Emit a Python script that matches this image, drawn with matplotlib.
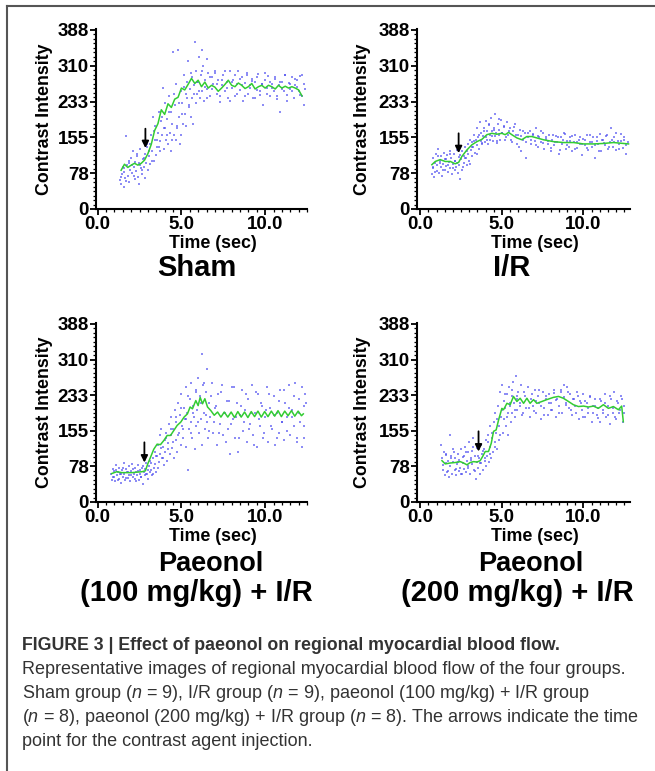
import matplotlib
matplotlib.use("Agg")
import matplotlib.pyplot as plt
from matplotlib.lines import Line2D
from matplotlib.ticker import MultipleLocator, FixedLocator

plt.rcParams['font.family'] = ['Liberation Sans', 'DejaVu Sans']
plt.rcParams['mathtext.fontset'] = 'custom'
plt.rcParams['mathtext.rm'] = 'Liberation Sans'
plt.rcParams['mathtext.it'] = 'Liberation Sans:italic'

# ---------------- data ----------------
ytick_vals = [0, 77.6, 155.2, 232.8, 310.4, 388]
ytick_labels = ['0', '78', '155', '233', '310', '388']
xtick_vals = [0, 5, 10]
xtick_labels = ['0.0', '5.0', '10.0']

# Sham
sham_line_t = [1.4,1.6,1.8,2.0,2.2,2.4,2.6,2.8,3.0,3.2,3.4,3.6,3.8,4.0,4.2,4.4,4.6,4.8,5.0,5.2,5.4,5.6,5.8,6.0,6.2,6.4,6.6,6.8,7.0,7.2,7.4,7.6,7.8,8.0,8.2,8.4,8.6,8.8,9.0,9.2,9.4,9.6,9.8,10.0,10.2,10.4,10.6,10.8,11.0,11.2,11.4,11.6,11.8,12.0,12.2]
sham_line_v = [84,97,90,95,99,95,99,106,120,140,170,185,215,205,228,220,238,242,262,258,270,283,272,279,265,275,262,268,264,255,262,270,279,268,265,273,268,261,265,272,260,265,268,262,268,265,260,268,262,266,262,265,262,258,245]
sham_pts_t = [1.35,1.4,1.45,1.5,1.55,1.6,1.65,1.7,1.75,1.8,1.85,1.9,1.95,2.0,2.05,2.1,2.15,2.2,2.25,2.3,2.35,2.4,2.45,2.5,2.55,2.6,2.65,2.7,2.75,2.8,2.85,2.9,2.95,3.0,3.05,3.1,3.15,3.2,3.25,3.3,3.35,3.4,3.45,3.5,3.55,3.6,3.65,3.7,3.75,3.8,3.85,3.9,3.95,4.0,4.05,4.1,4.15,4.2,4.25,4.3,4.35,4.4,4.45,4.5,4.55,4.6,4.65,4.7,4.75,4.8,4.85,4.9,4.95,5.0,5.05,5.1,5.15,5.2,5.25,5.3,5.35,5.4,5.45,5.5,5.55,5.6,5.65,5.7,5.75,5.8,5.85,5.9,5.95,6.0,6.05,6.1,6.15,6.2,6.25,6.3,6.35,6.4,6.5,6.55,6.6,6.7,6.8,6.9,7.0,7.1,7.2,7.3,7.4,7.5,7.6,7.7,7.8,7.9,8.0,8.1,8.2,8.3,8.4,8.5,8.6,8.7,8.8,8.9,9.0,9.1,9.2,9.3,9.4,9.5,9.6,9.7,9.8,9.9,10.0,10.1,10.2,10.3,10.4,10.5,10.6,10.7,10.8,10.9,11.0,11.1,11.2,11.3,11.4,11.5,11.6,11.7,11.8,11.9,12.0,12.1,12.2,12.3,12.35]
sham_pts_v = [62,55,75,90,48,80,68,158,95,72,100,58,85,110,78,125,90,65,102,82,115,70,55,95,130,88,75,108,92,120,68,100,135,85,115,140,98,160,125,200,105,150,180,118,135,165,210,125,148,190,160,262,130,175,230,150,195,140,245,165,210,125,185,340,160,225,150,270,175,345,200,140,255,160,230,185,290,205,250,180,275,320,225,260,200,295,240,185,268,362,230,300,250,275,330,240,290,345,255,310,235,280,325,260,295,245,285,270,300,250,280,232,268,290,255,275,240,298,262,280,245,270,300,258,285,235,272,290,250,268,282,240,275,258,292,248,270,225,280,262,288,245,270,255,282,238,268,210,275,255,290,248,272,260,285,240,268,280,255,288,245,270,225]
sham_pts2_t = [1.42,1.58,1.72,1.88,2.02,2.18,2.32,2.48,2.62,2.78,
               2.92,3.08,3.22,3.38,3.52,3.68,3.82,3.98,4.12,4.28,
               4.42,4.58,4.72,4.88,5.02,5.18,5.32,5.48,5.62,5.78,
               5.92,6.08,6.22,6.38,6.52,6.68,6.82,6.98,7.12,7.28,
               7.42,7.58,7.72,7.88,8.02,8.18,8.32,8.48,8.62,8.78,
               8.92,9.08,9.22,9.38,9.52,9.68,9.82,9.98,10.12,10.28,
               10.42,10.58,10.72,10.88,11.02,11.18,11.32,11.48,11.62,11.78,
               11.92,12.08,12.22,12.38]
sham_pts2_v = [70,88,60,105,95,72,120,100,85,110,
               140,125,105,170,150,135,200,175,160,210,
               150,250,180,230,205,265,240,220,285,250,
               275,255,300,265,240,285,260,295,270,245,
               280,300,262,235,275,290,250,282,268,245,
               295,262,278,240,285,255,270,295,250,275,
               262,285,245,275,260,290,235,270,255,282,
               265,248,290,260]

# I/R
ir_line_t = [0.71,0.92,1.22,1.53,1.84,2.14,2.35,2.55,2.86,3.16,3.47,3.78,4.08,4.39,4.69,5.0,5.2,5.41,5.61,5.92,6.22,6.53,6.84,7.14,7.55,8.16,8.78,9.39,10.0,10.61,11.22,11.84,12.45,12.76]
ir_line_v = [96,103,107,103,103,98,101,114,128,139,146,151,161,164,162,164,161,166,161,154,150,157,157,154,150,146,144,144,141,141,142,144,142,141]
ir_pts_t = [0.7,0.75,0.8,0.85,0.9,0.95,1.0,1.05,1.1,1.15,1.2,1.25,1.3,1.35,1.4,1.45,1.5,1.55,1.6,1.65,1.7,1.75,1.8,1.85,1.9,1.95,2.0,2.05,2.1,2.15,2.2,2.25,2.3,2.35,2.4,2.45,2.5,2.55,2.6,2.65,2.7,2.75,2.8,2.85,2.9,2.95,3.0,3.05,3.1,3.15,3.2,3.25,3.3,3.35,3.4,3.45,3.5,3.55,3.6,3.65,3.7,3.75,3.8,3.85,3.9,3.95,4.0,4.05,4.1,4.15,4.2,4.25,4.3,4.35,4.4,4.45,4.5,4.55,4.6,4.65,4.7,4.75,4.8,4.85,4.9,4.95,5.0,5.1,5.2,5.3,5.4,5.5,5.6,5.7,5.8,5.9,6.0,6.1,6.2,6.3,6.4,6.5,6.6,6.7,6.8,6.9,7.0,7.1,7.2,7.3,7.4,7.5,7.6,7.7,7.8,7.9,8.0,8.1,8.2,8.3,8.4,8.5,8.6,8.7,8.8,8.9,9.0,9.1,9.2,9.3,9.4,9.5,9.6,9.7,9.8,9.9,10.0,10.1,10.2,10.3,10.4,10.5,10.6,10.7,10.8,10.9,11.0,11.1,11.2,11.3,11.4,11.5,11.6,11.7,11.8,11.9,12.0,12.1,12.2,12.3,12.4,12.5,12.6,12.7]
ir_pts_v = [75,110,88,70,100,120,82,95,130,78,105,90,115,72,98,122,85,108,93,118,80,102,125,88,110,75,98,120,85,105,92,128,78,112,95,65,108,125,90,115,100,135,110,95,140,120,105,150,128,115,145,135,160,122,150,175,138,155,130,188,148,165,140,158,175,145,190,155,170,140,182,160,150,198,168,148,175,158,205,165,142,185,160,172,150,192,165,178,150,188,160,175,145,168,185,140,160,172,125,150,165,110,155,170,140,160,148,175,135,155,145,165,130,152,140,160,125,150,138,158,145,120,155,140,165,130,148,135,155,125,145,160,132,150,140,118,152,138,160,128,145,135,155,110,148,140,162,125,150,138,158,130,145,175,135,155,128,148,140,162,132,150,120,145]
ir_pts2_t = [0.78,0.92,1.08,1.22,1.38,1.52,1.68,1.82,1.98,2.12,
             2.28,2.42,2.58,2.72,2.88,3.02,3.18,3.32,3.48,3.62,
             3.78,3.92,4.08,4.22,4.38,4.52,4.68,4.82,4.98,5.12,
             5.28,5.42,5.58,5.72,5.88,6.02,6.18,6.32,6.48,6.62,
             6.78,6.92,7.08,7.22,7.38,7.52,7.68,7.82,7.98,8.12,
             8.28,8.42,8.58,8.72,8.88,9.02,9.18,9.32,9.48,9.62,
             9.78,9.92,10.08,10.22,10.38,10.52,10.68,10.82,10.98,11.12,
             11.28,11.42,11.58,11.72,11.88,12.02,12.18,12.32,12.48,12.62]
ir_pts2_v = [92,80,115,100,85,108,95,120,88,105,
             100,118,84,110,125,98,135,148,120,160,
             142,170,150,185,158,172,148,195,165,180,
             155,170,150,178,160,135,158,170,145,165,
             150,162,138,158,168,142,155,148,132,160,
             145,155,128,150,162,138,148,158,130,145,
             155,140,150,132,160,145,138,155,125,150,
             142,160,135,150,145,165,130,148,155,138]

# Paeonol 100 mg/kg + I/R
p100_line_t = [0.84,1.14,1.44,1.75,2.05,2.35,2.65,2.85,2.99,3.15,3.35,3.55,3.75,3.95,4.15,4.35,4.55,4.75,4.96,5.16,5.36,5.52,5.66,5.86,6.0,6.12,6.26,6.4,6.56,6.76,6.96,7.16,7.36,7.56,7.77,7.97,8.17,8.37,8.57,8.77,8.97,9.17,9.37,9.57,9.77,9.97,10.17,10.37,10.57,10.77,10.97,11.17,11.37,11.57,11.77,11.97,12.17,12.28]
p100_line_v = [62,66,64,64,64,65,66,68,83,97,115,126,125,134,145,145,156,167,174,185,192,207,203,221,210,228,214,225,207,199,189,196,185,196,185,196,184,197,185,196,184,197,186,198,185,197,186,198,187,199,186,198,188,199,187,198,188,192]
p100_pts_t = [0.8,0.85,0.9,0.95,1.0,1.05,1.1,1.15,1.2,1.25,1.3,1.35,1.4,1.45,1.5,1.55,1.6,1.65,1.7,1.75,1.8,1.85,1.9,1.95,2.0,2.05,2.1,2.15,2.2,2.25,2.3,2.35,2.4,2.45,2.5,2.55,2.6,2.65,2.7,2.75,2.8,2.85,2.9,2.95,3.0,3.05,3.1,3.15,3.2,3.25,3.3,3.35,3.4,3.45,3.5,3.55,3.6,3.65,3.7,3.75,3.8,3.85,3.9,3.95,4.0,4.05,4.1,4.15,4.2,4.25,4.3,4.35,4.4,4.45,4.5,4.55,4.6,4.65,4.7,4.75,4.8,4.85,4.9,4.95,5.0,5.05,5.1,5.15,5.2,5.25,5.3,5.35,5.4,5.45,5.5,5.55,5.6,5.65,5.7,5.75,5.8,5.85,5.9,5.95,6.0,6.05,6.1,6.15,6.2,6.25,6.3,6.35,6.4,6.45,6.5,6.55,6.6,6.65,6.7,6.8,6.9,7.0,7.1,7.2,7.3,7.4,7.5,7.6,7.7,7.8,7.9,8.0,8.1,8.2,8.3,8.4,8.5,8.6,8.7,8.8,8.9,9.0,9.1,9.2,9.3,9.4,9.5,9.6,9.7,9.8,9.9,10.0,10.1,10.2,10.3,10.4,10.5,10.6,10.7,10.8,10.9,11.0,11.1,11.2,11.3,11.4,11.5,11.6,11.7,11.8,11.9,12.0,12.1,12.2,12.3,12.35,12.4]
p100_pts_v = [60,48,72,55,68,45,80,58,65,50,75,62,42,70,55,85,60,48,72,65,52,78,58,45,68,82,55,62,75,50,66,58,80,48,70,62,55,75,40,65,72,58,85,62,50,78,65,90,70,58,95,75,110,82,65,100,125,88,145,105,160,95,120,80,135,110,150,90,128,170,105,145,185,118,160,95,200,135,175,110,215,150,190,125,235,165,140,205,180,250,120,195,70,160,225,175,260,140,210,185,115,245,165,200,270,150,230,180,322,125,255,195,160,240,175,290,140,215,185,260,150,205,125,235,170,255,145,195,220,160,105,250,180,140,215,110,190,245,155,200,130,225,170,255,145,195,120,235,165,210,140,185,250,130,205,160,230,125,195,150,245,175,135,215,185,255,145,200,165,260,130,225,175,120,210,140,235]
p100_pts2_t = [0.92,1.08,1.22,1.38,1.52,1.68,1.82,1.98,2.12,2.28,
               2.42,2.58,2.72,2.88,3.02,3.18,3.32,3.48,3.62,3.78,
               3.92,4.08,4.22,4.38,4.52,4.68,4.82,4.98,5.12,5.28,
               5.42,5.58,5.72,5.88,6.02,6.18,6.32,6.48,6.62,6.78,
               6.92,7.08,7.22,7.38,7.52,7.68,7.82,7.98,8.12,8.28,
               8.42,8.58,8.72,8.88,9.02,9.18,9.32,9.48,9.62,9.78,
               9.92,10.08,10.22,10.38,10.52,10.68,10.82,10.98,11.12,11.28,
               11.42,11.58,11.72,11.88,12.02,12.18,12.32,12.42]
p100_pts2_v = [55,70,48,62,75,52,66,58,72,45,
               68,55,78,62,70,85,60,100,75,118,
               95,140,115,160,130,185,145,205,160,180,
               230,150,195,240,175,215,260,190,155,230,
               175,210,150,240,195,130,220,170,250,185,
               140,210,175,235,160,195,125,240,180,215,
               150,200,235,165,190,140,220,175,245,155,
               205,185,230,140,195,250,165,215]

# Paeonol 200 mg/kg + I/R
p200_line_t = [1.33,1.53,1.84,2.14,2.45,2.65,2.86,3.06,3.27,3.47,3.67,3.82,3.98,4.18,4.35,4.49,4.65,4.8,5.0,5.1,5.31,5.51,5.71,5.92,6.12,6.33,6.53,6.73,6.94,7.14,7.45,7.75,8.16,8.47,8.77,9.08,9.38,9.69,10.0,10.3,10.61,10.91,11.22,11.53,11.83,12.14,12.34,12.44]
p200_line_v = [90,83,85,86,88,85,81,86,88,87,90,99,110,110,128,154,157,179,204,201,215,212,230,219,226,215,226,215,223,215,219,223,228,230,226,219,212,208,209,207,209,204,212,204,208,201,209,175]
p200_pts_t = [1.3,1.35,1.4,1.45,1.5,1.55,1.6,1.65,1.7,1.75,1.8,1.85,1.9,1.95,2.0,2.05,2.1,2.15,2.2,2.25,2.3,2.35,2.4,2.45,2.5,2.55,2.6,2.65,2.7,2.75,2.8,2.85,2.9,2.95,3.0,3.05,3.1,3.15,3.2,3.25,3.3,3.35,3.4,3.45,3.5,3.55,3.6,3.65,3.7,3.75,3.8,3.85,3.9,3.95,4.0,4.05,4.1,4.15,4.2,4.25,4.3,4.35,4.4,4.45,4.5,4.55,4.6,4.65,4.7,4.75,4.8,4.85,4.9,4.95,5.0,5.05,5.1,5.15,5.2,5.25,5.3,5.35,5.4,5.45,5.5,5.55,5.6,5.65,5.7,5.75,5.8,5.85,5.9,5.95,6.0,6.1,6.2,6.3,6.4,6.5,6.6,6.7,6.8,6.9,7.0,7.1,7.2,7.3,7.4,7.5,7.6,7.7,7.8,7.9,8.0,8.1,8.2,8.3,8.4,8.5,8.6,8.7,8.8,8.9,9.0,9.1,9.2,9.3,9.4,9.5,9.6,9.7,9.8,9.9,10.0,10.1,10.2,10.3,10.4,10.5,10.6,10.7,10.8,10.9,11.0,11.1,11.2,11.3,11.4,11.5,11.6,11.7,11.8,11.9,12.0,12.1,12.2,12.3,12.4,12.5]
p200_pts_v = [125,95,70,110,58,85,102,65,90,55,145,78,100,62,88,110,70,95,58,82,105,68,92,75,115,60,85,100,72,120,65,90,108,78,130,62,95,112,82,140,70,100,50,88,118,75,95,60,125,85,105,70,115,90,135,78,100,145,88,120,165,95,140,110,175,130,195,150,115,210,165,135,240,185,255,150,220,180,205,165,235,195,145,250,210,175,230,195,262,215,185,275,225,200,240,210,255,195,230,205,250,185,225,210,245,195,230,215,180,240,205,225,190,235,215,200,245,185,225,210,240,195,255,215,250,205,235,190,225,210,240,180,220,200,235,185,215,195,230,175,210,225,190,205,175,220,195,235,185,210,170,225,195,240,180,215,195,230,175,210]
p200_pts2_t = [1.42,1.58,1.72,1.88,2.02,2.18,2.32,2.48,2.62,2.78,
               2.92,3.08,3.22,3.38,3.52,3.68,3.82,3.98,4.12,4.28,
               4.42,4.58,4.72,4.88,5.02,5.18,5.32,5.48,5.62,5.78,
               5.92,6.08,6.22,6.38,6.52,6.68,6.82,6.98,7.12,7.28,
               7.42,7.58,7.72,7.88,8.02,8.18,8.32,8.48,8.62,8.78,
               8.92,9.08,9.22,9.38,9.52,9.68,9.82,9.98,10.12,10.28,
               10.42,10.58,10.72,10.88,11.02,11.18,11.32,11.48,11.62,11.78,
               11.92,12.08,12.22,12.38,12.48]
p200_pts2_v = [80,105,68,95,115,72,88,60,98,110,
               75,92,120,68,100,85,112,95,130,105,
               150,120,180,145,200,235,185,215,245,200,
               230,215,190,240,225,205,235,198,220,245,
               210,190,230,215,200,238,222,195,245,228,
               212,240,200,225,195,230,215,185,220,205,
               228,195,210,182,225,200,215,190,232,205,
               185,220,200,225,195]

# arrows: (time, tail value, head value)
arrows = [(2.85, 174, 132), (2.35, 164, 121), (2.79, 130, 86), (3.57, 154, 110)]

# ---------------- figure ----------------
W, H = 655, 771
fig = plt.figure(figsize=(W / 100, H / 100), dpi=100)

def rect(l, t, r, b):
    return [l / W, 1 - b / H, (r - l) / W, (b - t) / H]

rects = [rect(96, 29, 307, 209), rect(417, 29, 630, 209),
         rect(96, 323, 307, 502), rect(417, 323, 630, 502)]
xlims = [(-0.1, 12.5), (-0.2, 12.85), (-0.1, 12.5), (-0.2, 12.85)]
lines = [(sham_line_t, sham_line_v), (ir_line_t, ir_line_v),
         (p100_line_t, p100_line_v), (p200_line_t, p200_line_v)]
pts = [(sham_pts_t + sham_pts2_t, sham_pts_v + sham_pts2_v),
       (ir_pts_t + ir_pts2_t, ir_pts_v + ir_pts2_v),
       (p100_pts_t + p100_pts2_t, p100_pts_v + p100_pts2_v),
       (p200_pts_t + p200_pts2_t, p200_pts_v + p200_pts2_v)]

for i in range(4):
    ax = fig.add_axes(rects[i])
    ax.scatter(pts[i][0], pts[i][1], s=3, marker='s', color='#5050f0',
               linewidths=0, alpha=0.65, zorder=2)
    ax.plot(lines[i][0], lines[i][1], color='#33cc33', lw=1.1, zorder=3)
    at, a0, a1 = arrows[i]
    ax.annotate('', xy=(at, a1), xytext=(at, a0),
                arrowprops=dict(arrowstyle='-|>', color='black', lw=1.3,
                                mutation_scale=10, shrinkA=0, shrinkB=0), zorder=4)
    ax.set_xlim(*xlims[i])
    ax.set_ylim(0, 390)
    for s in ['top', 'right']:
        ax.spines[s].set_visible(False)
    for s in ['left', 'bottom']:
        ax.spines[s].set_linewidth(1.5)
    ax.yaxis.set_major_locator(FixedLocator(ytick_vals))
    ax.set_yticklabels(ytick_labels, fontsize=13.5, fontweight='bold')
    ax.yaxis.set_minor_locator(MultipleLocator(77.6 / 8))
    ax.xaxis.set_major_locator(FixedLocator(xtick_vals))
    ax.set_xticklabels(xtick_labels, fontsize=13.5, fontweight='bold')
    ax.xaxis.set_minor_locator(MultipleLocator(0.5))
    ax.tick_params(which='major', length=4, width=1.3, pad=1.2)
    ax.tick_params(which='minor', length=2.2, width=0.9)
    ax.set_ylabel('Contrast Intensity', fontsize=12.8, fontweight='bold')
    ax.yaxis.set_label_coords(-0.205 if i % 2 == 0 else -0.215, 0.5)
    ax.set_xlabel('Time (sec)', fontsize=12.8, fontweight='bold')
    ax.xaxis.set_label_coords(0.555, -0.145)

# panel titles
tfs = 21
fig.text(197 / W, 1 - 268 / H, 'Sham', ha='center', va='center', fontsize=tfs, fontweight='bold')
fig.text(512 / W, 1 - 268 / H, 'I/R', ha='center', va='center', fontsize=tfs, fontweight='bold')
fig.text(211 / W, 1 - 564 / H, 'Paeonol', ha='center', va='center', fontsize=19.5, fontweight='bold')
fig.text(196 / W, 1 - 593 / H, '(100 mg/kg) + I/R', ha='center', va='center', fontsize=tfs, fontweight='bold')
fig.text(531 / W, 1 - 564 / H, 'Paeonol', ha='center', va='center', fontsize=19.5, fontweight='bold')
fig.text(517 / W, 1 - 593 / H, '(200 mg/kg) + I/R', ha='center', va='center', fontsize=tfs, fontweight='bold')

# caption
cap_col = '#333333'
fig.text(22 / W, 1 - 645 / H, 'FIGURE 3 | Effect of paeonol on regional myocardial blood flow.',
         ha='left', va='center', fontsize=12.8, fontweight='bold', color=cap_col)
cap_lines = ['Representative images of regional myocardial blood flow of the four groups.',
             r'Sham group ($n$ = 9), I/R group ($n$ = 9), paeonol (100 mg/kg) + I/R group',
             r'($n$ = 8), paeonol (200 mg/kg) + I/R group ($n$ = 8). The arrows indicate the time',
             'point for the contrast agent injection.']
for k, s in enumerate(cap_lines):
    fig.text(22 / W, 1 - (670 + 24 * k) / H, s, ha='left', va='center',
             fontsize=13.0, color=cap_col)

# frame
fig.add_artist(Line2D([7 / W, 1], [1 - 6 / H, 1 - 6 / H], color='#555555', lw=1.5))
fig.add_artist(Line2D([7 / W, 7 / W], [1 - 6 / H, 0], color='#555555', lw=1.5))

fig.savefig('out.png', dpi=100)
